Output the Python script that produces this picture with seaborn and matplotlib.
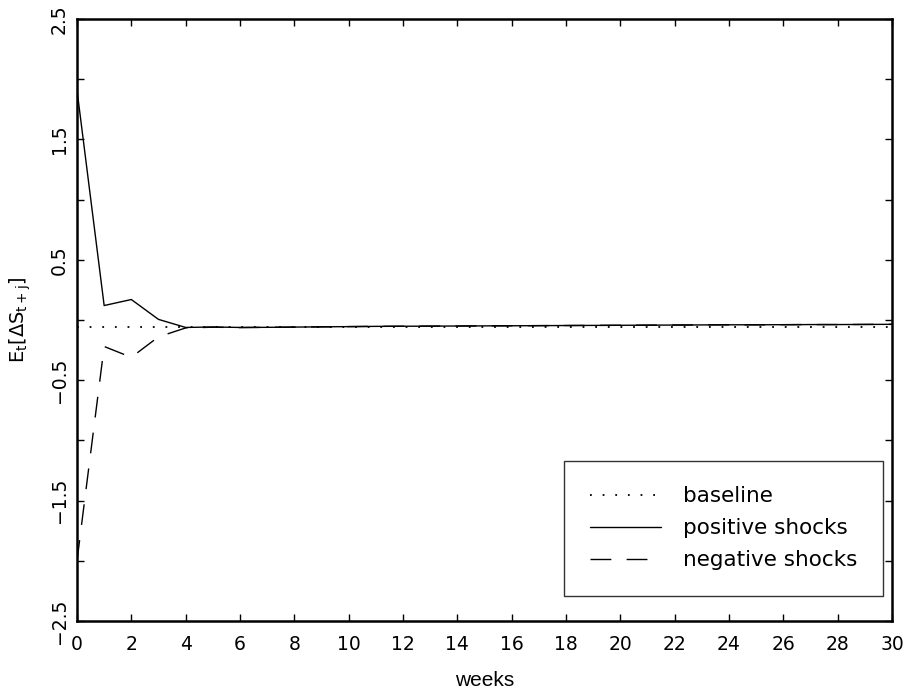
import numpy as np
import pandas as pd
import matplotlib
matplotlib.use("Agg")
import matplotlib.pyplot as plt
import seaborn as sns
from matplotlib.ticker import FixedLocator

weeks = list(range(0, 31))
baseline = [-0.055] * 31
positive = [1.91, 0.12, 0.17, 0.005, -0.062, -0.058, -0.062, -0.061, -0.059, -0.057,
            -0.055, -0.053, -0.052, -0.051, -0.050, -0.049, -0.048, -0.047, -0.046, -0.045,
            -0.044, -0.043, -0.042, -0.041, -0.040, -0.040, -0.039, -0.038, -0.038, -0.037, -0.036]
negative = [-2.00, -0.22, -0.31, -0.14, -0.066, -0.060, -0.063, -0.061, -0.059, -0.057,
            -0.055, -0.053, -0.052, -0.051, -0.050, -0.049, -0.048, -0.047, -0.046, -0.045,
            -0.044, -0.043, -0.042, -0.041, -0.040, -0.040, -0.039, -0.038, -0.038, -0.037, -0.036]
series_names = ["baseline", "positive shocks", "negative shocks"]
x_ticks = list(range(0, 31, 2))
y_ticks = [-2.5, -1.5, -0.5, 0.5, 1.5, 2.5]
y_minor = [-2, -1, 0, 1, 2]

sns.set_theme(style="ticks")
plt.rcParams["font.family"] = ["DejaVu Sans"]
plt.rcParams["text.color"] = "black"
plt.rcParams["axes.labelcolor"] = "black"
plt.rcParams["xtick.color"] = "black"
plt.rcParams["ytick.color"] = "black"

fig = plt.figure(figsize=(9.10, 6.96), dpi=100)
ax = fig.add_axes([0.0846, 0.1078, 0.8956, 0.8649])

styles = {
    "baseline": dict(linestyle=(0, (1, 6)), linewidth=1.3),
    "positive shocks": dict(linestyle="-", linewidth=1.0),
    "negative shocks": dict(linestyle=(0, (15, 11)), linewidth=1.0),
}
for name, vals in zip(series_names, [baseline, positive, negative]):
    df = pd.DataFrame({"week": weeks, "value": vals})
    sns.lineplot(data=df, x="week", y="value", ax=ax, color="black",
                 label=name, **styles[name])

ax.set_xlim(0, 30)
ax.set_ylim(-2.5, 2.5)
ax.xaxis.set_major_locator(FixedLocator(x_ticks))
ax.yaxis.set_major_locator(FixedLocator(y_ticks))
ax.yaxis.set_minor_locator(FixedLocator(y_minor))
ax.set_xticklabels([str(t) for t in x_ticks])
ax.set_yticklabels([f"{t:g}".replace("-", "\u2212") for t in y_ticks])

ax.tick_params(axis="both", which="both", direction="in", length=5, width=1.0,
               top=True, right=True, colors="black", labelcolor="black")
ax.tick_params(axis="x", which="major", labelsize=13.5, pad=10)
ax.tick_params(axis="y", which="major", labelsize=13.5, pad=6)
for lab in ax.get_yticklabels():
    lab.set_rotation(90)
    lab.set_va("center")

for sp in ax.spines.values():
    sp.set_linewidth(1.8)
    sp.set_color("black")

ax.set_xlabel("weeks", fontsize=15, family=["Liberation Sans"], labelpad=12, color="black")
ax.set_ylabel(r"$\mathrm{E_t[\Delta S_{t+j}]}$", fontsize=14, labelpad=12, color="black")

leg = ax.legend(loc="lower right", bbox_to_anchor=(0.989, 0.0415), borderaxespad=0,
                frameon=True, fancybox=False, edgecolor="black",
                handlelength=3.3, handletextpad=1.0, labelspacing=0.55,
                borderpad=1.2, prop={"size": 15.5})
leg.get_frame().set_linewidth(1.0)
leg.get_frame().set_facecolor("white")
for t in leg.get_texts():
    t.set_color("black")

fig.savefig("out.png", dpi=100, facecolor="white")
